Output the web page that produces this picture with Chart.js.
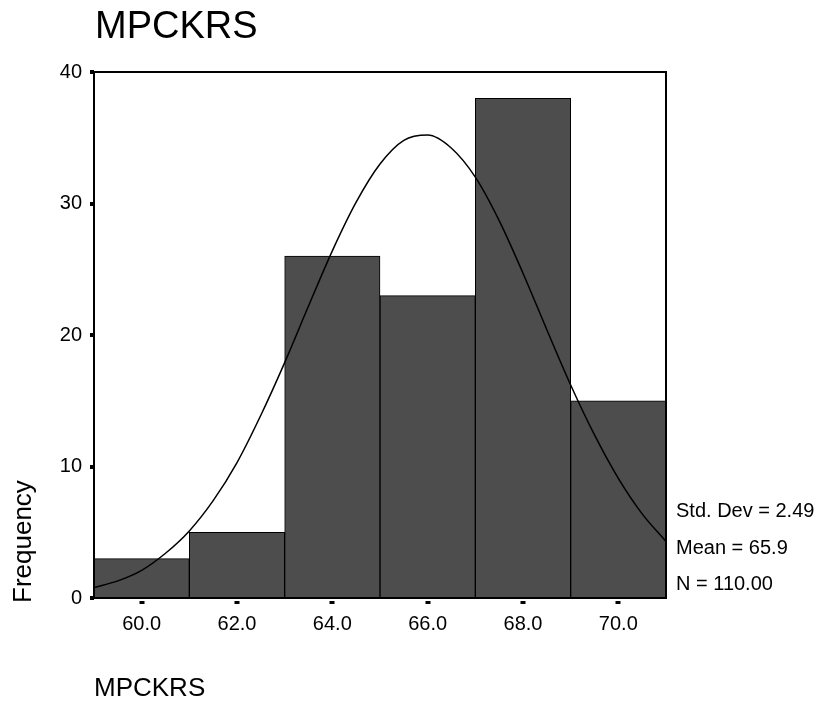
<!DOCTYPE html>
<html>
<head>
<meta charset="utf-8">
<script src="https://cdn.jsdelivr.net/npm/chart.js@4.4.1/dist/chart.umd.min.js"></script>
<style>
  body { margin: 0; background: #fff; }
  #wrap { width: 821px; height: 703px; }
</style>
</head>
<body>
<div id="wrap"><canvas id="histChart" width="821" height="703"></canvas></div>
<script>
// histogram bins (centre of each bin) and counts
const binCenters = [60, 62, 64, 66, 68, 70];
const frequencies = [3, 5, 26, 23, 38, 15];

// normal curve
const curveX = [59, 59.5, 60, 60.5, 61, 61.5, 62, 62.5, 63, 63.5, 64, 64.5, 65,
                65.5, 66, 66.5, 67, 67.5, 68, 68.5, 69, 69.5, 70, 70.5, 71];
const curveY = [0.8, 1.3, 2.1, 3.4, 5.1, 7.4, 10.3, 13.9, 17.9, 22.2, 26.4, 30.1, 33.0,
                34.8, 35.2, 34.2, 32.0, 28.7, 24.7, 20.4, 16.2, 12.4, 9.1, 6.4, 4.3];

// axes
const xTickValues = [60, 62, 64, 66, 68, 70];
const xTickLabels = ['60.0', '62.0', '64.0', '66.0', '68.0', '70.0'];
const yTickValues = [0, 10, 20, 30, 40];

const chartTitle = 'MPCKRS';
const xTitle = 'MPCKRS';
const yTitle = 'Frequency';
const statLines = ['Std. Dev = 2.49', 'Mean = 65.9', 'N = 110.00'];

const FONT = '"Liberation Sans", Arial, sans-serif';

// frame, tick marks and texts round the plot
const framePlugin = {
    id: 'frame',
    afterDraw(chart) {
        const ctx = chart.ctx;
        const a = chart.chartArea;
        const xs = chart.scales.x;
        const ys = chart.scales.y;
        ctx.save();
        ctx.strokeStyle = '#000';
        ctx.lineWidth = 2;
        ctx.strokeRect(a.left, a.top, a.right - a.left, a.bottom - a.top);

        ctx.fillStyle = '#000';
        yTickValues.forEach(v => {
            const py = ys.getPixelForValue(v);
            ctx.fillRect(a.left - 4, Math.round(py) - 2, 4, 4);
        });
        xTickValues.forEach(v => {
            const px = xs.getPixelForValue(v);
            ctx.fillRect(Math.round(px) - 2.5, a.bottom + 3, 5, 3);
        });

        ctx.textAlign = 'left';
        ctx.textBaseline = 'alphabetic';
        ctx.font = '38px ' + FONT;
        ctx.fillText(chartTitle, 95, 38);

        ctx.font = '26px ' + FONT;
        ctx.fillText(xTitle, 94, 696);

        ctx.save();
        ctx.translate(31, 603);
        ctx.rotate(-Math.PI / 2);
        ctx.fillText(yTitle, 0, 0);
        ctx.restore();

        ctx.font = '20px ' + FONT;
        ctx.textBaseline = 'middle';
        const statY = [511, 548, 584];
        statLines.forEach((s, i) => ctx.fillText(s, a.right + 10, statY[i]));
        ctx.restore();
    }
};

const ctx = document.getElementById('histChart').getContext('2d');
new Chart(ctx, {
    type: 'bar',
    data: {
        datasets: [
            {
                type: 'line',
                data: curveX.map((x, i) => ({ x: x, y: curveY[i] })),
                borderColor: '#000',
                borderWidth: 1.5,
                pointRadius: 0,
                fill: false,
                cubicInterpolationMode: 'monotone',
                order: 0
            },
            {
                type: 'bar',
                data: binCenters.map((x, i) => ({ x: x, y: frequencies[i] })),
                backgroundColor: '#4d4d4d',
                borderColor: '#000',
                borderWidth: 1,
                barPercentage: 1,
                categoryPercentage: 1,
                order: 1
            }
        ]
    },
    options: {
        responsive: false,
        animation: false,
        layout: { padding: { top: 72, left: 54, right: 155, bottom: 65 } },
        plugins: {
            legend: { display: false },
            title: { display: false },
            tooltip: { enabled: false }
        },
        scales: {
            x: {
                type: 'linear',
                min: 59,
                max: 71,
                offset: false,
                grid: { display: false, drawTicks: false },
                border: { display: false },
                afterBuildTicks: scale => {
                    scale.ticks = xTickValues.map(v => ({ value: v }));
                },
                afterFit: scale => { scale.height = 40; },
                ticks: {
                    color: '#000',
                    padding: 14,
                    maxRotation: 0,
                    font: { family: FONT, size: 20 },
                    callback: (v, i) => xTickLabels[i]
                }
            },
            y: {
                min: 0,
                max: 40,
                grid: { display: false, drawTicks: false },
                border: { display: false },
                afterBuildTicks: scale => {
                    scale.ticks = yTickValues.map(v => ({ value: v }));
                },
                afterFit: scale => { scale.width = 40; },
                ticks: {
                    color: '#000',
                    padding: 12,
                    font: { family: FONT, size: 20 }
                }
            }
        }
    },
    plugins: [framePlugin]
});
</script>
</body>
</html>
